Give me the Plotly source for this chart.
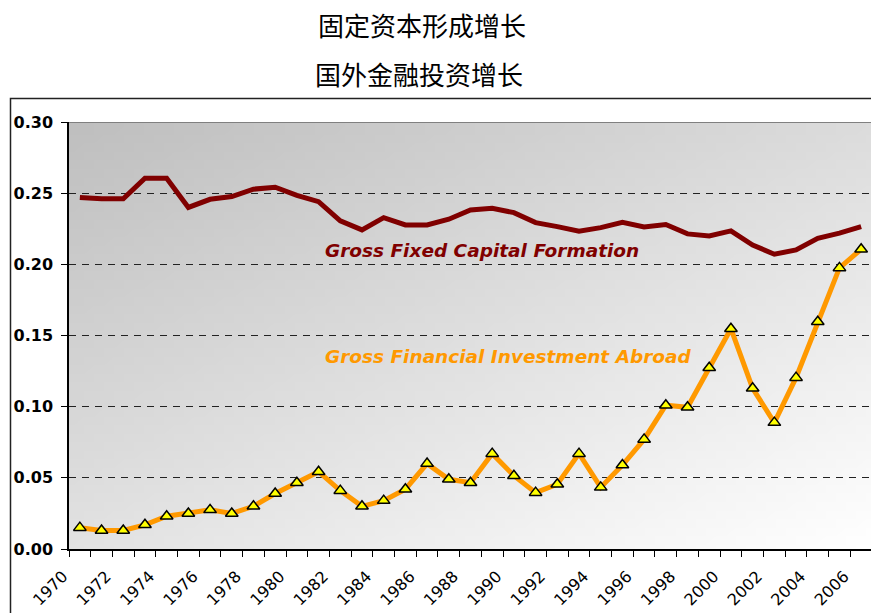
import base64, struct, zlib
import plotly.graph_objects as go

# ---------------- data ----------------
years = list(range(1970, 2007))
gfcf = [0.247, 0.246, 0.246, 0.2605, 0.2605, 0.240, 0.2457, 0.2476, 0.2528, 0.2542,
        0.2485, 0.244, 0.2305, 0.2242, 0.2328, 0.2277, 0.2277, 0.2317, 0.2382, 0.2394,
        0.2363, 0.2293, 0.2265, 0.2232, 0.2258, 0.2295, 0.2262, 0.228, 0.2214, 0.220,
        0.2235, 0.2136, 0.2071, 0.2101, 0.2183, 0.2219, 0.2265]
gfia = [0.015, 0.013, 0.013, 0.017, 0.023, 0.025, 0.0275, 0.025, 0.030, 0.039,
        0.0466, 0.0543, 0.041, 0.030, 0.034, 0.042, 0.060, 0.049, 0.0466, 0.067,
        0.0515, 0.0396, 0.0455, 0.067, 0.0433, 0.059, 0.077, 0.101, 0.0996, 0.1274,
        0.1548, 0.1129, 0.0888, 0.1204, 0.1597, 0.1975, 0.2106]
y_ticks = [0.00, 0.05, 0.10, 0.15, 0.20, 0.25, 0.30]
y_tick_labels = ["0.00", "0.05", "0.10", "0.15", "0.20", "0.25", "0.30"]
title_lines = ["固定资本形成增长", "国外金融投资增长"]
label_gfcf = "Gross Fixed Capital Formation"
label_gfia = "Gross Financial Investment Abroad"

# ---------------- gradient background (PNG data URI) ----------------
def make_png(w, h):
    rows = b""
    for j in range(h):
        v = j / (h - 1)
        row = b"\x00"
        for i in range(w):
            u = i / (w - 1)
            t = 0.45 * u + 0.55 * v
            c = int(round(191 + 64 * t))
            row += bytes([c, c, c])
        rows += row
    def chunk(tag, data):
        return struct.pack(">I", len(data)) + tag + data + struct.pack(">I", zlib.crc32(tag + data) & 0xffffffff)
    png = b"\x89PNG\r\n\x1a\n"
    png += chunk(b"IHDR", struct.pack(">IIBBBBB", w, h, 8, 2, 0, 0, 0))
    png += chunk(b"IDAT", zlib.compress(rows, 9))
    png += chunk(b"IEND", b"")
    return "data:image/png;base64," + base64.b64encode(png).decode()

bg_src = make_png(80, 50)

W, H = 871, 613
ML, MR, MT, MB = 69, 0, 122, 64

# tick marks at category boundaries, labels on every other year
tickvals = [y - 0.5 for y in years]
ticktext = [str(y) if y % 2 == 0 else "" for y in years]

fig = go.Figure()
fig.add_trace(go.Scatter(
    x=years, y=gfcf, mode="lines",
    line=dict(color="#800000", width=5),
    hoverinfo="skip", showlegend=False))
fig.add_trace(go.Scatter(
    x=years, y=gfia, mode="lines+markers",
    line=dict(color="#FF9900", width=5),
    marker=dict(symbol="triangle-up", size=11, color="#FFFF00",
                line=dict(color="#000000", width=1.5)),
    hoverinfo="skip", showlegend=False))

plot_w = W - ML - MR
x_end = years[-1] + 0.5 - (1.0 / 21.7)

fig.update_layout(
    width=W, height=H,
    margin=dict(l=ML, r=MR, t=MT, b=MB, autoexpand=False),
    paper_bgcolor="white",
    plot_bgcolor="#dddddd",
    font=dict(family="DejaVu Sans, Arial, sans-serif", color="black"),
    xaxis=dict(
        range=[years[0] - 0.5, x_end], automargin=False,
        tickmode="array", tickvals=tickvals, ticktext=ticktext,
        tickangle=-45, ticks="outside", ticklen=6, tickcolor="black", tickwidth=1,
        ticklabelshift=-6, ticklabelstandoff=4,
        tickfont=dict(family="DejaVu Sans", size=16, color="black"),
        showgrid=False, zeroline=False,
        showline=True, linecolor="black", linewidth=1.5,
    ),
    yaxis=dict(
        range=[0, 0.30], automargin=False,
        tickmode="array", tickvals=y_ticks, ticktext=y_tick_labels,
        ticks="outside", ticklen=6, tickcolor="black", tickwidth=1,
        ticklabelstandoff=5,
        tickfont=dict(family="DejaVu Sans", size=16, color="black", weight="bold"),
        showgrid=True, gridcolor="#222222", gridwidth=1, griddash="7px,6px",
        zeroline=False,
        showline=True, linecolor="black", linewidth=1.5,
    ),
    images=[dict(source=bg_src, xref="paper", yref="paper", x=0, y=1,
                 sizex=1, sizey=1, sizing="stretch", xanchor="left", yanchor="top",
                 layer="below")],
)

# gray top border line of plot area
fig.add_shape(type="line", xref="paper", yref="y", x0=0, x1=1, y0=0.30, y1=0.30,
              line=dict(color="#808080", width=2), layer="above")
# outer chart frame (extends beyond the visible page at right/bottom)
plot_h = H - MT - MB
def px_to_paper_x(px):
    return (px - ML) / plot_w
def px_to_paper_y(py):
    return (H - MB - py) / plot_h
fig.add_shape(type="rect", xref="paper", yref="paper",
              x0=px_to_paper_x(10.5), x1=px_to_paper_x(900),
              y0=px_to_paper_y(640), y1=px_to_paper_y(98.5),
              line=dict(color="#222222", width=1.5), fillcolor="rgba(0,0,0,0)", layer="above")

# titles
for txt, py, px in [(title_lines[0], 25, 422), (title_lines[1], 73, 419)]:
    fig.add_annotation(text=txt, xref="paper", yref="paper",
                       x=px_to_paper_x(px), y=px_to_paper_y(py),
                       xanchor="center", yanchor="middle", showarrow=False,
                       font=dict(family="Noto Sans CJK SC", size=26, color="black"))

# series labels
fig.add_annotation(text="<b><i>" + label_gfcf + "</i></b>", x=1981.2, y=0.2094,
                   xanchor="left", yanchor="middle", showarrow=False,
                   font=dict(family="DejaVu Sans", size=18.5, color="#800000"))
fig.add_annotation(text="<b><i>" + label_gfia + "</i></b>", x=1981.2, y=0.135,
                   xanchor="left", yanchor="middle", showarrow=False,
                   font=dict(family="DejaVu Sans", size=18.5, color="#FF9900"))

fig.write_html("out.html", config={"displayModeBar": False},
               post_script="document.body.style.margin='0';document.body.style.overflow='hidden';")
